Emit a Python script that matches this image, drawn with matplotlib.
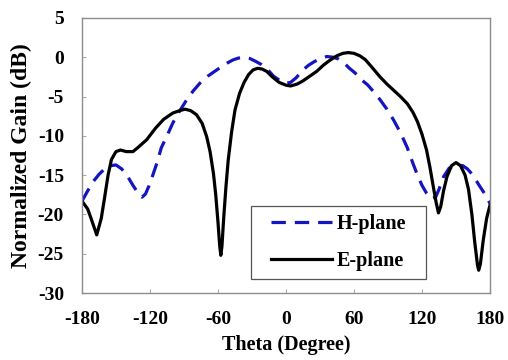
import numpy as np
import matplotlib
matplotlib.use("Agg")
import matplotlib.pyplot as plt
from matplotlib.patches import Rectangle

# Radiation pattern data (theta in degrees, gain in dB)
theta_h = [-180, -175, -170, -165, -160, -155, -150, -145, -140, -135, -130, -127,
           -124, -121, -118, -114, -110, -105, -100, -95, -88, -82, -76, -69, -61,
           -54, -47, -42, -37, -32, -27, -22, -16, -11, -5, 0, 4, 9, 15, 20, 25, 30,
           36, 42, 46, 51, 56, 61, 66, 72, 78, 83, 89, 95, 101, 107, 112, 116, 120,
           124, 128, 132, 135, 139, 144, 150, 156, 160, 165, 170, 175, 180]
gain_h = [-18.3, -17.0, -15.8, -14.9, -14.2, -13.8, -13.7, -14.2, -15.1, -16.3, -17.4,
          -17.8, -17.4, -16.4, -15.2, -13.5, -11.5, -10.0, -8.4, -7.1, -5.5, -4.3,
          -3.3, -2.4, -1.6, -0.9, -0.35, -0.1, 0.0, -0.15, -0.5, -0.9, -1.6, -2.4,
          -3.0, -3.3, -3.2, -2.6, -1.6, -1.0, -0.55, -0.2, 0.1, 0.0, -0.2, -0.7, -1.4,
          -2.0, -2.8, -3.5, -4.5, -5.4, -6.6, -8.0, -9.6, -11.5, -13.5, -15.0, -16.3,
          -17.3, -18.0, -17.8, -16.8, -15.2, -14.1, -13.7, -13.8, -14.2, -15.0, -16.2,
          -17.3, -18.6]

theta_e = [-180, -175, -172, -167, -163, -160, -157, -154, -150, -146, -141, -135,
           -130, -123, -115, -108, -100, -94, -89, -84, -79, -74, -70, -67, -64, -62,
           -60, -58.5, -57.5, -56.5, -55, -53, -51, -48, -45, -41, -37, -33, -29, -25,
           -21, -17, -12, -6, 0, 4, 10, 15, 21, 27, 33, 39, 45, 50, 55, 60, 65, 70, 76,
           83, 89, 95, 101, 107, 112, 116, 120, 124, 127, 130, 132.5, 134.5, 136.5,
           139, 142, 146, 150, 154, 158, 161, 164, 166.5, 169, 170, 171.5, 174, 177,
           180]
gain_e = [-18.3, -19.3, -20.5, -22.6, -20.5, -17.8, -15.0, -13.0, -12.0, -11.8, -12.0,
          -12.0, -11.4, -10.5, -9.0, -7.9, -7.1, -6.8, -6.6, -6.8, -7.3, -8.4, -10.1,
          -12.0, -14.8, -17.5, -21.0, -24.0, -25.2, -24.0, -20.5, -16.5, -13.1, -9.5,
          -6.7, -4.6, -3.2, -2.2, -1.6, -1.4, -1.5, -1.8, -2.5, -3.2, -3.55, -3.65,
          -3.4, -3.0, -2.4, -1.8, -1.0, -0.35, 0.2, 0.5, 0.6, 0.5, 0.2, -0.3, -1.3,
          -2.5, -3.4, -4.2, -5.0, -5.9, -7.0, -8.2, -9.8, -11.8, -14.0, -16.5, -18.5,
          -19.8, -19.0, -17.0, -15.2, -13.8, -13.4, -13.8, -15.0, -16.8, -20.0, -23.5,
          -26.5, -27.1, -26.3, -23.3, -20.5, -18.8]

xticks = [-180, -120, -60, 0, 60, 120, 180]
yticks = [5, 0, -5, -10, -15, -20, -25, -30]

plt.rcParams['font.family'] = ['Liberation Serif', 'DejaVu Serif']
plt.rcParams['font.weight'] = 'bold'
plt.rcParams['axes.unicode_minus'] = False

fig = plt.figure(figsize=(5.08, 3.6), dpi=100)
ax = fig.add_axes([0.1614, 0.186, 0.8032, 0.764])

ax.plot(theta_h, gain_h, color='#1414c0', lw=2.3, ls=(0, (4.5, 2.8)),
        solid_joinstyle='round', label='H-plane')
ax.plot(theta_e, gain_e, color='black', lw=2.3, solid_joinstyle='round',
        label='E-plane')

ax.set_xlim(-180, 180)
ax.set_ylim(-30, 5)
ax.set_xticks(xticks)
ax.set_yticks(yticks)
ax.tick_params(direction='in', length=3, color='#aaaaaa', labelsize=14)
ax.tick_params(axis='x', pad=13)
ax.tick_params(axis='y', pad=13)
for lab in ax.get_xticklabels() + ax.get_yticklabels():
    lab.set_fontweight('bold')
for sp in ax.spines.values():
    sp.set_color('#8c8c8c')
    sp.set_linewidth(1.0)

ax.set_xlabel('Theta (Degree)', fontsize=14.5, fontweight='bold', labelpad=5)
ax.set_ylabel('Normalized Gain (dB)', fontsize=17, fontweight='bold', labelpad=4)

# legend frame drawn separately so padding can differ horizontally/vertically
ax.add_patch(Rectangle((0.414, 0.051), 0.429, 0.265, transform=ax.transAxes,
                       facecolor='white', edgecolor='#555555', lw=0.9, zorder=4))
leg = ax.legend(loc='center', bbox_to_anchor=(0.629, 0.184), fontsize=14.5,
                frameon=False, handlelength=3.0, handletextpad=0.25,
                borderpad=0.2, labelspacing=0.85)
leg.set_zorder(5)
for t in leg.get_texts():
    t.set_fontweight('bold')

fig.savefig('out.png', dpi=100)
